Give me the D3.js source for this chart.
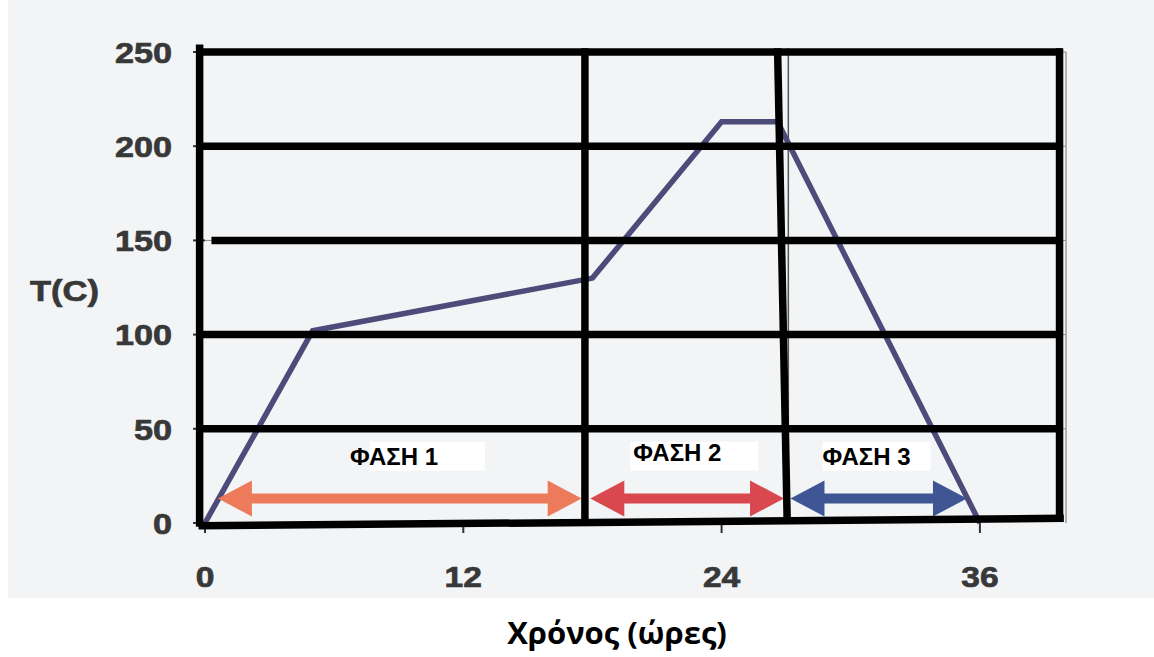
<!DOCTYPE html>
<html>
<head>
  <meta charset="utf-8">
  <title>Θερμοκρασία - Χρόνος</title>
  <script src="https://d3js.org/d3.v7.min.js"></script>
  <style>
    body { margin: 0; background: #fff; }
    .tick-label { font: bold 30px "Liberation Sans", Arial, sans-serif; fill: #383838; stroke: #383838; stroke-width: 0.7px; }
    .phase-label { font: bold 24px "Liberation Sans", Arial, sans-serif; fill: #000; }
    .title { font: bold 31px "Open Sans", "Noto Sans", sans-serif; fill: #000; text-anchor: middle; }
  </style>
</head>
<body>
  <script>
    // curve
    var hours = [0, 5, 18, 24, 26.6, 36];
    var temps = [0, 102, 130, 213, 213, 0];

    var xTicks = [0, 12, 24, 36];
    var yTicks = [0, 50, 100, 150, 200, 250];

    var phaseNames = ["ΦΑΣΗ 1", "ΦΑΣΗ 2", "ΦΑΣΗ 3"];
    var phaseFrom = [0.6, 17.9, 27.2];
    var phaseTo = [17.5, 26.9, 35.4];
    var phaseColors = ["#ee7a5c", "#d9474f", "#3e5794"];

    var W = 1154, H = 657;
    var x = d3.scaleLinear().domain([0, 40]).range([205, 1066]);
    var y = d3.scaleLinear().domain([0, 250]).range([523, 52]);

    var svg = d3.select("body").append("svg")
        .attr("width", W)
        .attr("height", H);

    // scanned paper
    svg.append("rect")
        .attr("x", 8).attr("y", 0)
        .attr("width", W - 8).attr("height", 598)
        .attr("fill", "#f3f4f6");

    // original faint grid and frame
    svg.selectAll(".grid")
        .data(yTicks.slice(1))
      .enter().append("line")
        .attr("x1", x(0)).attr("x2", x(40))
        .attr("y1", d => y(d)).attr("y2", d => y(d))
        .attr("stroke", "#8a8a8a").attr("stroke-width", 1);

    svg.append("line")
        .attr("x1", x(40)).attr("x2", x(40))
        .attr("y1", y(250)).attr("y2", y(0))
        .attr("stroke", "#9a9a9a").attr("stroke-width", 1.5);

    svg.append("line")
        .attr("x1", x(27.1)).attr("x2", x(27.1))
        .attr("y1", y(252)).attr("y2", y(0))
        .attr("stroke", "#555").attr("stroke-width", 1.5);

    // small tick marks
    svg.selectAll(".ytick")
        .data(yTicks)
      .enter().append("line")
        .attr("x1", x(0) - 12).attr("x2", x(0))
        .attr("y1", d => y(d)).attr("y2", d => y(d))
        .attr("stroke", "#333").attr("stroke-width", 2);

    svg.selectAll(".xtick")
        .data(xTicks)
      .enter().append("line")
        .attr("x1", d => x(d)).attr("x2", d => x(d))
        .attr("y1", y(0)).attr("y2", y(0) + 10)
        .attr("stroke", "#333").attr("stroke-width", 2);

    // the curve
    var pts = hours.map((h, i) => [h, temps[i]]);
    svg.append("path")
        .datum(pts)
        .attr("fill", "none")
        .attr("stroke", "#4c4b7a")
        .attr("stroke-width", 5.5)
        .attr("stroke-linejoin", "miter")
        .attr("d", d3.line().x(d => x(d[0])).y(d => y(d[1])));

    // phase arrows
    function arrow(x0, x1, yc) {
      var hw = 18, hl = 34, sw = 5;
      return "M" + x0 + "," + yc +
        "L" + (x0 + hl) + "," + (yc - hw) +
        "L" + (x0 + hl) + "," + (yc - sw) +
        "L" + (x1 - hl) + "," + (yc - sw) +
        "L" + (x1 - hl) + "," + (yc - hw) +
        "L" + x1 + "," + yc +
        "L" + (x1 - hl) + "," + (yc + hw) +
        "L" + (x1 - hl) + "," + (yc + sw) +
        "L" + (x0 + hl) + "," + (yc + sw) +
        "L" + (x0 + hl) + "," + (yc + hw) + "Z";
    }

    svg.selectAll(".arrow")
        .data(phaseNames)
      .enter().append("path")
        .attr("d", (d, i) => arrow(x(phaseFrom[i]), x(phaseTo[i]), y(13)))
        .attr("fill", (d, i) => phaseColors[i]);

    // hand drawn black overlay
    var ink = svg.append("g")
        .attr("stroke", "#000")
        .attr("stroke-width", 7.5)
        .attr("fill", "none");

    yTicks.slice(1).forEach(function(v) {
      ink.append("line")
          .attr("x1", v === 150 ? x(0.3) : x(-0.3)).attr("x2", x(39.8))
          .attr("y1", y(v)).attr("y2", y(v));
    });
    ink.append("line")
        .attr("x1", x(-0.3)).attr("x2", x(39.9))
        .attr("y1", y(-1.5)).attr("y2", y(2.5));
    ink.append("line")
        .attr("x1", x(-0.25)).attr("x2", x(-0.25))
        .attr("y1", y(254)).attr("y2", y(-2));
    ink.append("line")
        .attr("x1", x(17.65)).attr("x2", x(17.65))
        .attr("y1", y(252)).attr("y2", y(2));
    ink.append("line")
        .attr("x1", x(26.6)).attr("x2", x(27.05))
        .attr("y1", y(252)).attr("y2", y(-0.5));
    ink.append("line")
        .attr("x1", x(39.7)).attr("x2", x(39.7))
        .attr("y1", y(252)).attr("y2", y(2));

    // phase labels on white patches
    var lab = svg.selectAll(".ph")
        .data(phaseNames)
      .enter().append("g")
        .attr("transform", (d, i) => "translate(" + [x(phaseFrom[i]) + [132, 43, 32][i], y(31)] + ")");
    lab.append("rect")
        .attr("x", (d, i) => [20, -3, 0][i]).attr("y", -23)
        .attr("width", (d, i) => [115, 128, 108][i]).attr("height", 29)
        .attr("fill", "#fff");
    lab.append("text")
        .attr("class", "phase-label")
        .attr("y", (d, i) => [0, -4, 0][i])
        .text(d => d);

    // tick labels
    svg.selectAll(".ylab")
        .data(yTicks)
      .enter().append("text")
        .attr("class", "tick-label")
        .attr("text-anchor", "end")
        .attr("dy", "0.36em")
        .attr("transform", d => "translate(172," + y(d) + ") scale(1.14,1)")
        .text(d => d);

    svg.selectAll(".xlab")
        .data(xTicks)
      .enter().append("text")
        .attr("class", "tick-label")
        .attr("text-anchor", "middle")
        .attr("transform", d => "translate(" + x(d) + ",587) scale(1.12,1)")
        .text(d => d);

    svg.append("text")
        .attr("class", "tick-label")
        .attr("transform", "translate(30,301) scale(1.15,1)")
        .text("T(C)");

    svg.append("text")
        .attr("class", "title")
        .attr("x", 617)
        .attr("y", 644)
        .text("Χρόνος (ώρες)");
  </script>
</body>
</html>
